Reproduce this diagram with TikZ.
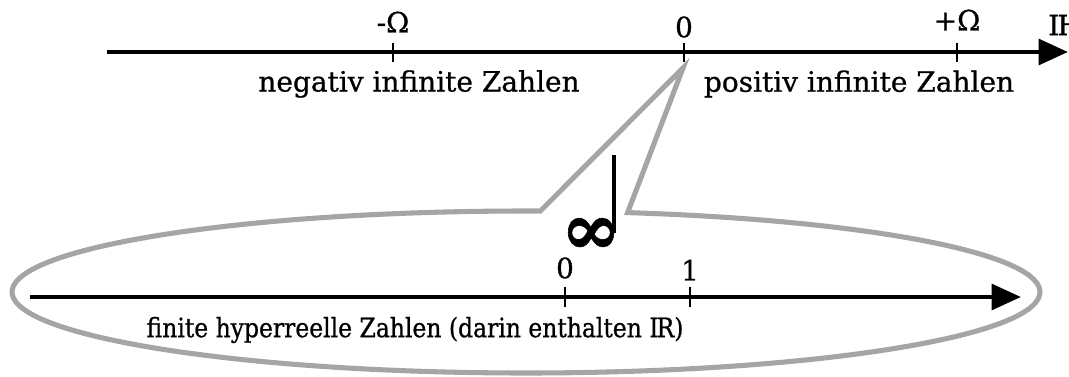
\documentclass[tikz,border=0pt]{standalone}
\usepackage{fontspec}
\setmainfont[FakeBold=0.8]{DejaVu Serif}
\newfontfamily\narrowfont[FakeStretch=0.88,FakeBold=0.8]{DejaVu Serif}
\usetikzlibrary{arrows.meta,calc}
\definecolor{bubblegray}{RGB}{165,165,165}
\tikzset{
  axis/.style={line width=3.6pt,-{Triangle[length=22pt,width=19pt]}},
  tick/.style={line width=2.2pt},
  bubble/.style={draw=bubblegray,line width=3.8pt,line join=miter},
  lbl/.style={inner sep=0pt,font=\fontsize{21}{25}\selectfont},
}
\begin{document}
\begin{tikzpicture}[x=0.75pt,y=0.75pt]
\useasboundingbox (0,0) rectangle (1069,376);
% upper axis
\coordinate (hs) at (107,324);
\coordinate (he) at (1068,324);
\draw[axis] (hs) -- (he);
\draw[tick] (393,314) -- (393,333);
\draw[tick] (684,314) -- (684,333);
\draw[tick] (957,314) -- (957,333);
\node[lbl] (mo) at (393,354) {-Ω};
\node[lbl] (z0) at (684,349) {0};
\node[lbl] (po) at (957,356) {+Ω};
\node[lbl,anchor=west] (hh) at (1048,351) {I\kern-1.5pt H};
\node[lbl] (neg) at (419,292) {negativ infinite Zahlen};
\node[lbl] (pos) at (859,292) {positiv infinite Zahlen};
% bubble
\coordinate (c) at (526,84);
\coordinate (tip) at (683,308);
\draw[bubble] ([shift={(78.6:514 and 81)}]c) -- (tip) -- ([shift={(88.4:514 and 81)}]c)
  arc[start angle=88.4, end angle=438.6, x radius=514, y radius=81] -- cycle;
% infinity with stem
\node[inner sep=0pt,font=\fontsize{54}{56}\selectfont\bfseries] (inf) at (591,122) {\smash{∞}};
\draw[line width=3pt] (614,221) -- (614,143);
% lower axis
\coordinate (ls) at (30,79);
\coordinate (le) at (1021,79);
\draw[axis] (ls) -- (le);
\draw[tick] (565,69) -- (565,89);
\draw[tick] (690,69) -- (690,89);
\node[lbl] (l0) at (565,108) {0};
\node[lbl] (l1) at (690,106) {1};
\node[lbl,font=\fontsize{20}{24}\narrowfont] (fin) at (415,46) {finite hyperreelle Zahlen (darin enthalten I\kern-1.5pt R)};
\end{tikzpicture}
\end{document}
